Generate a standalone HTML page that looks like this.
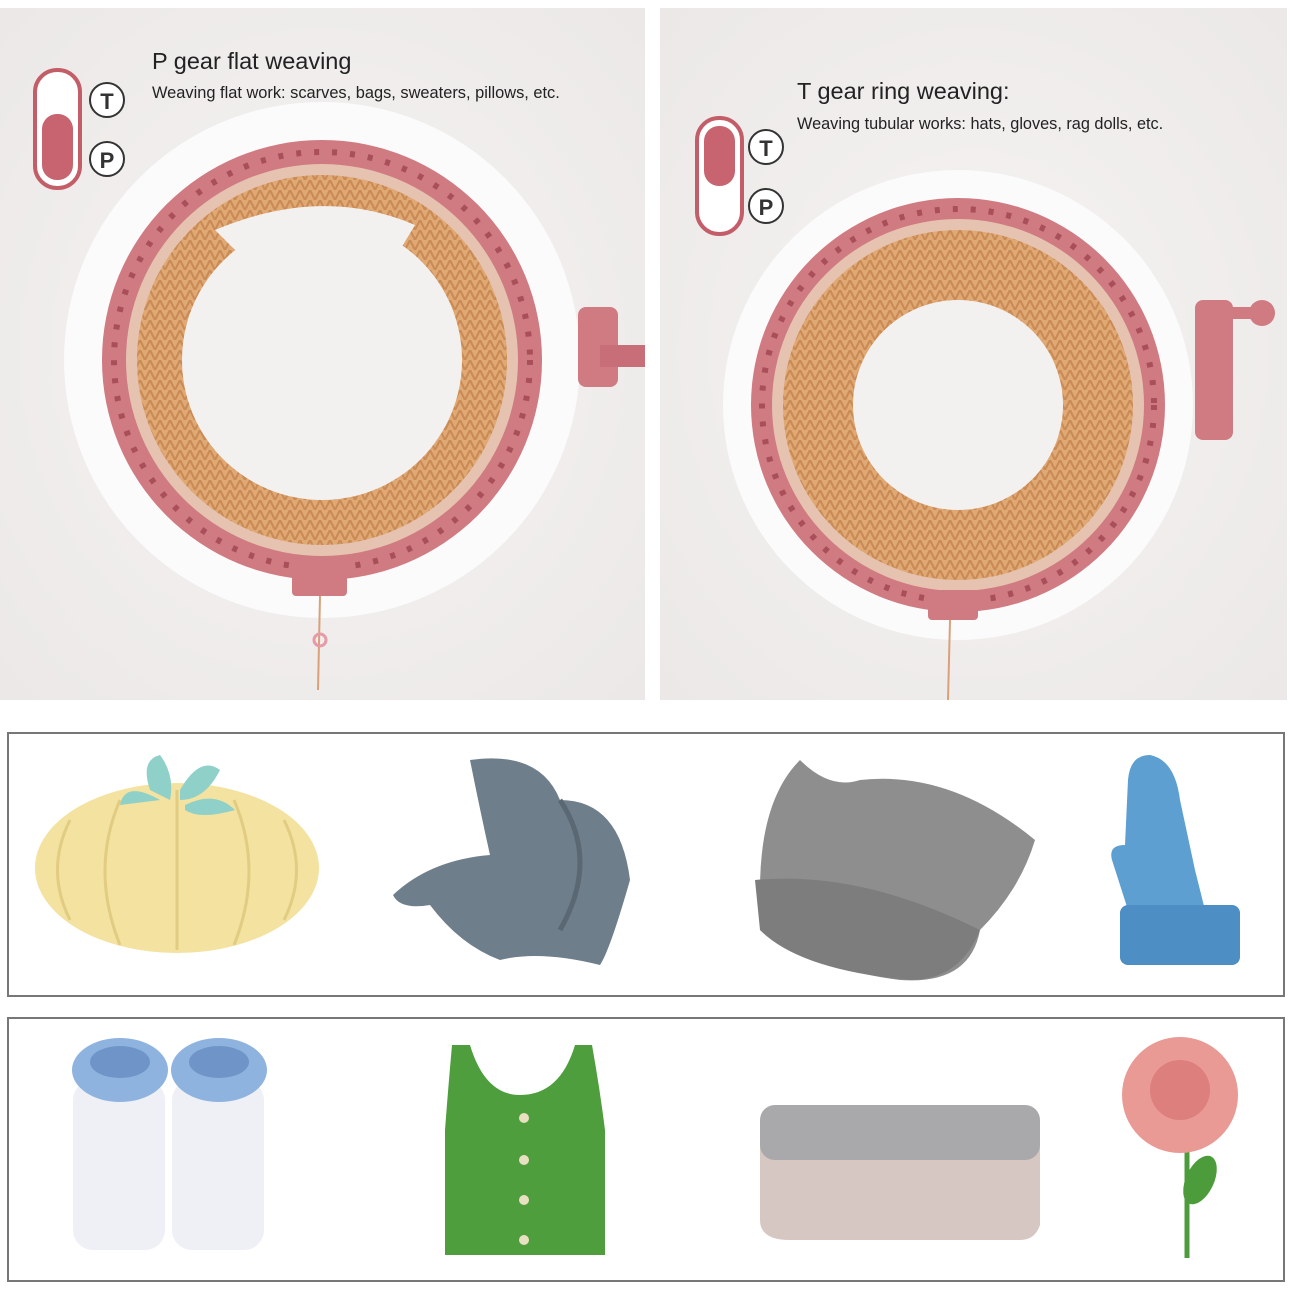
<!DOCTYPE html>
<html><head><meta charset="utf-8"><style>
html,body{margin:0;padding:0;background:#fff;}
svg{display:block;}
text{font-family:"Liberation Sans",sans-serif;}
</style></head><body>
<svg width="1290" height="1290" viewBox="0 0 1290 1290" xmlns="http://www.w3.org/2000/svg">
<defs>
<radialGradient id="bg" cx="50%" cy="50%" r="70%"><stop offset="0" stop-color="#f6f4f3"/><stop offset="1" stop-color="#ebe8e7"/></radialGradient>
<pattern id="knit" width="10" height="10" patternUnits="userSpaceOnUse"><rect width="10" height="10" fill="#e0a872"/><path d="M0 0 L5 10 L10 0" stroke="#c98a55" stroke-width="2" fill="none"/></pattern>
</defs>
<rect width="1290" height="1290" fill="#fff"/>
<rect x="0" y="8" width="645" height="692" fill="url(#bg)"/>
<rect x="660" y="8" width="627" height="692" fill="url(#bg)"/>

<!-- LEFT loom -->
<circle cx="322" cy="360" r="258" fill="#fbfbfb"/>
<rect x="578" y="307" width="40" height="80" rx="8" fill="#d07a82"/>
<rect x="600" y="345" width="45" height="22" fill="#c86e78"/>
<circle cx="322" cy="360" r="220" fill="#d07a82"/>
<circle cx="322" cy="360" r="196" fill="#e6c3b0"/>
<circle cx="322" cy="360" r="185" fill="url(#knit)"/>
<circle cx="322" cy="360" r="140" fill="#f3f1f0"/>
<path d="M215 230 Q322 185 415 225 L400 250 Q322 215 235 250 Z" fill="#f3f1f0"/>
<g stroke="#a84f5a" stroke-width="6" stroke-dasharray="5 13" fill="none"><circle cx="322" cy="360" r="208"/></g>
<rect x="292" y="560" width="55" height="36" rx="4" fill="#d07a82"/>
<line x1="320" y1="596" x2="318" y2="690" stroke="#d9a07a" stroke-width="2"/>
<circle cx="320" cy="640" r="6" fill="none" stroke="#e79aa8" stroke-width="3"/>
<rect x="35" y="70" width="45" height="118" rx="22" fill="#fff" stroke="#c35e69" stroke-width="4"/>
<rect x="42" y="114" width="31" height="66" rx="15" fill="#c86370"/>
<circle cx="107" cy="100" r="17" fill="#fff" stroke="#333" stroke-width="2"/>
<text x="107" y="109" font-size="22" font-weight="bold" text-anchor="middle" fill="#333">T</text>
<circle cx="107" cy="159" r="17" fill="#fff" stroke="#333" stroke-width="2"/>
<text x="107" y="168" font-size="22" font-weight="bold" text-anchor="middle" fill="#333">P</text>
<text x="152" y="69" font-size="23.5" fill="#222">P gear flat weaving</text>
<text x="152" y="98" font-size="16.4" fill="#222">Weaving flat work: scarves, bags, sweaters, pillows, etc.</text>

<!-- RIGHT loom -->
<circle cx="958" cy="405" r="235" fill="#fbfbfb"/>
<rect x="1195" y="300" width="38" height="140" rx="8" fill="#d07a82"/>
<circle cx="1262" cy="313" r="13" fill="#d07a82"/>
<rect x="1225" y="307" width="32" height="12" fill="#d07a82"/>
<circle cx="958" cy="405" r="207" fill="#d07a82"/>
<circle cx="958" cy="405" r="186" fill="#e6c3b0"/>
<circle cx="958" cy="405" r="175" fill="url(#knit)"/>
<circle cx="958" cy="405" r="105" fill="#f3f1f0"/>
<g stroke="#a84f5a" stroke-width="6" stroke-dasharray="5 13" fill="none"><circle cx="958" cy="405" r="196"/></g>
<rect x="928" y="590" width="50" height="30" rx="4" fill="#d07a82"/>
<line x1="950" y1="620" x2="948" y2="700" stroke="#d9a07a" stroke-width="2"/>
<rect x="697" y="118" width="45" height="116" rx="22" fill="#fff" stroke="#c35e69" stroke-width="4"/>
<rect x="704" y="126" width="31" height="60" rx="15" fill="#c86370"/>
<circle cx="766" cy="147" r="17" fill="#fff" stroke="#333" stroke-width="2"/>
<text x="766" y="156" font-size="22" font-weight="bold" text-anchor="middle" fill="#333">T</text>
<circle cx="766" cy="206" r="17" fill="#fff" stroke="#333" stroke-width="2"/>
<text x="766" y="215" font-size="22" font-weight="bold" text-anchor="middle" fill="#333">P</text>
<text x="797" y="99" font-size="23.5" fill="#222">T gear ring weaving:</text>
<text x="797" y="129" font-size="16.3" fill="#222">Weaving tubular works: hats, gloves, rag dolls, etc.</text>

<!-- box 1 -->
<rect x="8" y="733" width="1276" height="263" fill="#fff" stroke="#777" stroke-width="2"/>
<ellipse cx="177" cy="868" rx="142" ry="85" fill="#f3e2a0"/>
<g stroke="#e2cc82" stroke-width="3" fill="none"><path d="M177 790 V950 M120 800 Q90 870 120 945 M234 800 Q264 870 234 945 M70 820 Q45 870 70 920 M284 820 Q309 870 284 920"/></g>
<path d="M150 790 Q140 760 160 755 Q175 775 170 800 Z M180 790 Q200 755 220 770 Q205 800 180 800 Z M120 805 Q125 780 160 800 Z M185 805 Q215 790 235 810 Q200 820 185 810 Z" fill="#8fd0c8"/>
<path d="M470 760 Q540 750 560 800 Q620 800 630 880 Q610 950 600 965 Q540 950 500 960 Q460 945 430 905 Q400 910 393 895 Q430 860 490 855 Q480 810 470 760 Z" fill="#6e7e8b"/>
<path d="M560 800 Q600 860 560 930" stroke="#5a6874" stroke-width="5" fill="none"/>
<path d="M760 890 Q760 800 800 760 Q830 790 860 780 Q950 770 1035 840 Q1020 890 980 930 Q970 985 900 980 Q820 970 760 930 Z" fill="#8e8e8e"/>
<path d="M755 880 Q860 870 980 930 Q960 980 910 980 Q800 970 760 930 Z" fill="#7d7d7d"/>
<path d="M1128 780 Q1130 755 1150 755 Q1175 760 1180 800 L1195 870 L1205 910 L1128 910 L1112 860 Q1108 845 1125 845 Z" fill="#5c9fd0"/>
<rect x="1120" y="905" width="120" height="60" rx="8" fill="#4d8fc4"/>

<!-- box 2 -->
<rect x="8" y="1018" width="1276" height="263" fill="#fff" stroke="#777" stroke-width="2"/>
<rect x="73" y="1080" width="92" height="170" rx="20" fill="#eef0f5"/>
<rect x="172" y="1080" width="92" height="170" rx="20" fill="#eef0f5"/>
<ellipse cx="120" cy="1070" rx="48" ry="32" fill="#8fb3df"/>
<ellipse cx="219" cy="1070" rx="48" ry="32" fill="#8fb3df"/>
<ellipse cx="120" cy="1062" rx="30" ry="16" fill="#6f94c8"/>
<ellipse cx="219" cy="1062" rx="30" ry="16" fill="#6f94c8"/>
<path d="M452 1045 L470 1045 Q485 1095 520 1095 Q560 1095 575 1045 L592 1045 Q600 1090 605 1130 L605 1255 L445 1255 L445 1130 Q448 1090 452 1045 Z" fill="#4e9e3e"/>
<g fill="#e8e0c0"><circle cx="524" cy="1118" r="5"/><circle cx="524" cy="1160" r="5"/><circle cx="524" cy="1200" r="5"/><circle cx="524" cy="1240" r="5"/></g>
<path d="M760 1125 Q760 1105 790 1105 L1025 1105 Q1040 1110 1040 1130 L1040 1225 Q1035 1240 1020 1240 L790 1240 Q760 1240 760 1220 Z" fill="#d7c7c2"/>
<rect x="760" y="1105" width="280" height="55" rx="15" fill="#a9a9ab"/>
<line x1="1187" y1="1150" x2="1187" y2="1258" stroke="#4c9c3c" stroke-width="5"/>
<ellipse cx="1200" cy="1180" rx="14" ry="26" fill="#4c9c3c" transform="rotate(25 1200 1180)"/>
<circle cx="1180" cy="1095" r="58" fill="#e99a95"/>
<circle cx="1180" cy="1090" r="30" fill="#dd7f7c"/>
</svg>
</body></html>
